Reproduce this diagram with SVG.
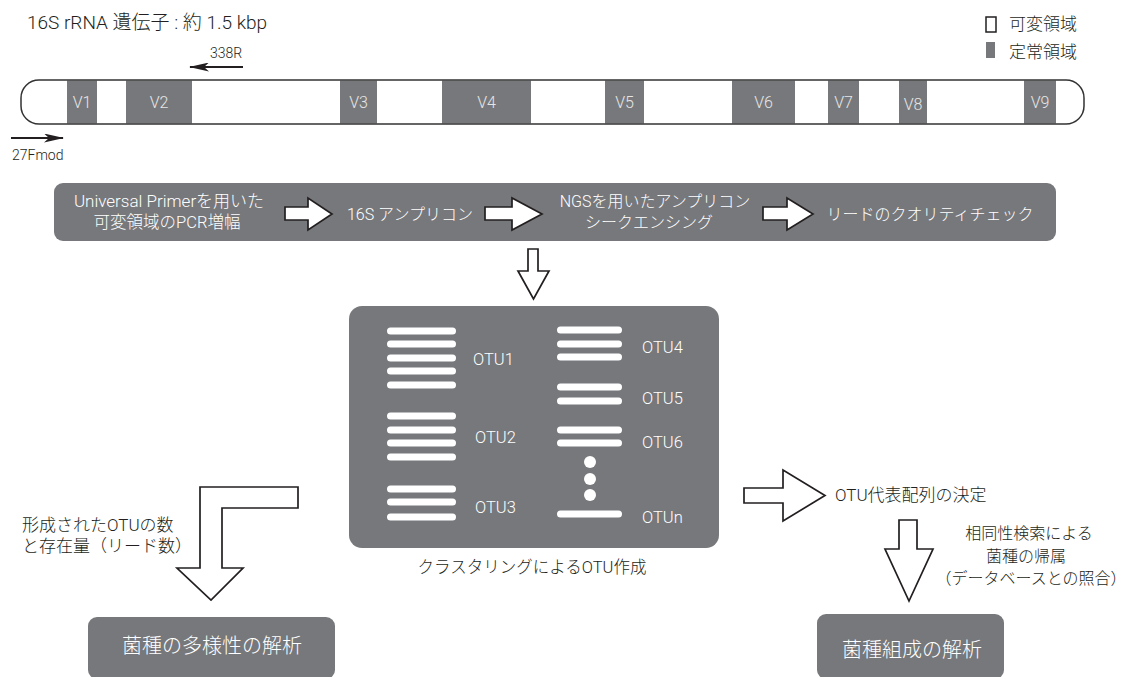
<svg xmlns="http://www.w3.org/2000/svg" width="1127" height="677" viewBox="0 0 1127 677">
<style>
.t{font-family:Roboto,"Noto Sans CJK JP",sans-serif;fill:#231f20;font-weight:300}
.w{font-family:Roboto,"Noto Sans CJK JP",sans-serif;fill:#ffffff;font-weight:300}
.v{font-family:Roboto,"Noto Sans CJK JP",sans-serif;fill:#e6e6e6;font-size:16px;font-weight:300;text-anchor:middle}
.o{font-family:Roboto,"Noto Sans CJK JP",sans-serif;fill:#ffffff;font-size:16.5px;font-weight:300}
.dk{fill:#77787b}
.ar{fill:#ffffff;stroke:#231f20;stroke-width:1.7;stroke-linejoin:miter}
.ln{stroke:#ffffff;stroke-width:7;stroke-linecap:round}
.pr{stroke:#231f20;stroke-width:2}
.m{text-anchor:middle}
</style>
<defs>
<marker id="ah" viewBox="0 0 20 9" markerWidth="20" markerHeight="9" refX="19" refY="4.5" orient="auto" markerUnits="userSpaceOnUse">
<path d="M0,0 L20,4.5 L0,9 L5,4.5 z" fill="#231f20"/>
</marker>
</defs>

<g id="title">
<text class="t" x="27" y="29" font-size="19">16S rRNA 遺伝子 : 約 1.5 kbp</text>
</g>

<g id="legend">
<rect x="986" y="17" width="10" height="15" fill="#fff" stroke="#231f20" stroke-width="1.5"/>
<text class="t" x="1009" y="30" font-size="17">可変領域</text>
<rect x="986" y="42" width="9" height="16" class="dk"/>
<text class="t" x="1009" y="58" font-size="17">定常領域</text>
</g>

<g id="gene">
<rect x="21" y="80" width="1063" height="44" rx="18" fill="#fff"/>
<rect x="67" y="80.5" width="30" height="43" class="dk"/>
<rect x="126" y="80.5" width="66" height="43" class="dk"/>
<rect x="340" y="80.5" width="37" height="43" class="dk"/>
<rect x="442" y="80.5" width="89" height="43" class="dk"/>
<rect x="605" y="80.5" width="39" height="43" class="dk"/>
<rect x="732" y="80.5" width="63" height="43" class="dk"/>
<rect x="828" y="80.5" width="31" height="43" class="dk"/>
<rect x="899" y="80.5" width="28" height="43" class="dk"/>
<rect x="1024" y="80.5" width="32" height="43" class="dk"/>
<rect x="21" y="80" width="1063" height="44" rx="18" fill="none" stroke="#333" stroke-width="1.5"/>
<text class="v" x="82" y="108">V1</text>
<text class="v" x="159" y="108">V2</text>
<text class="v" x="358.5" y="108">V3</text>
<text class="v" x="486.5" y="108">V4</text>
<text class="v" x="624.5" y="108">V5</text>
<text class="v" x="763.5" y="108">V6</text>
<text class="v" x="843.5" y="108">V7</text>
<text class="v" x="913" y="110">V8</text>
<text class="v" x="1040" y="108">V9</text>
</g>

<g id="primers">
<line x1="243" y1="67" x2="190" y2="67" class="pr" marker-end="url(#ah)"/>
<text class="t" x="210" y="58" font-size="14">338R</text>
<line x1="11" y1="138" x2="63" y2="138" class="pr" marker-end="url(#ah)"/>
<text class="t" x="12" y="160" font-size="14">27Fmod</text>
</g>

<g id="process">
<rect x="54" y="183" width="1002" height="58" rx="9" class="dk"/>
<text class="w m" x="169" y="207" font-size="17">Universal Primerを用いた</text>
<text class="w m" x="167" y="228" font-size="16.5">可変領域のPCR増幅</text>
<text class="w m" x="410" y="220" font-size="16">16S アンプリコン</text>
<text class="w m" x="655" y="207" font-size="16">NGSを用いたアンプリコン</text>
<text class="w m" x="649" y="228" font-size="16">シークエンシング</text>
<text class="w m" x="930" y="220" font-size="16">リードのクオリティチェック</text>
</g>

<g id="connectors">
<polygon class="ar" points="285,207 308,207 308,198 332,214 308,230 308,220 285,220"/>
<polygon class="ar" points="485,207 512,207 512,198 542,214 512,230 512,220 485,220"/>
<polygon class="ar" points="763,207 787,207 787,198 813,214 787,230 787,220 763,220"/>
<polygon class="ar" points="528,249 538,249 538,271 549,271 533.5,299 518,271 528,271"/>
<polygon class="ar" points="200,487 298,487 298,508 222,508 222,568 243,568 211,600 177,568 200,568"/>
<polygon class="ar" points="744,488 783,488 783,470 825,495.5 783,521 783,503 744,503"/>
<polygon class="ar" points="899,520 917,520 917,549 933,549 909,601 885,549 899,549"/>
</g>

<g id="clustering">
<rect x="349" y="306" width="370" height="242" rx="13" class="dk"/>
<line class="ln" x1="390.5" y1="331" x2="452.5" y2="331"/>
<line class="ln" x1="390.5" y1="344" x2="452.5" y2="344"/>
<line class="ln" x1="390.5" y1="358" x2="452.5" y2="358"/>
<line class="ln" x1="390.5" y1="371" x2="452.5" y2="371"/>
<line class="ln" x1="390.5" y1="385" x2="452.5" y2="385"/>
<line class="ln" x1="390.5" y1="416" x2="452.5" y2="416"/>
<line class="ln" x1="390.5" y1="430" x2="452.5" y2="430"/>
<line class="ln" x1="390.5" y1="443" x2="452.5" y2="443"/>
<line class="ln" x1="390.5" y1="457" x2="452.5" y2="457"/>
<line class="ln" x1="390.5" y1="489" x2="452.5" y2="489"/>
<line class="ln" x1="390.5" y1="502" x2="452.5" y2="502"/>
<line class="ln" x1="390.5" y1="517" x2="452.5" y2="517"/>
<line class="ln" x1="560.5" y1="330" x2="618.5" y2="330"/>
<line class="ln" x1="560.5" y1="344" x2="618.5" y2="344"/>
<line class="ln" x1="560.5" y1="357" x2="618.5" y2="357"/>
<line class="ln" x1="560.5" y1="387" x2="618.5" y2="387"/>
<line class="ln" x1="560.5" y1="401" x2="618.5" y2="401"/>
<line class="ln" x1="560.5" y1="430" x2="618.5" y2="430"/>
<line class="ln" x1="560.5" y1="443" x2="618.5" y2="443"/>
<circle cx="590" cy="462" r="6" fill="#fff"/>
<circle cx="590" cy="479" r="6" fill="#fff"/>
<circle cx="590" cy="495" r="6" fill="#fff"/>
<line class="ln" x1="560.5" y1="514" x2="618.5" y2="514"/>
<text class="o" x="473" y="365">OTU1</text>
<text class="o" x="475" y="443">OTU2</text>
<text class="o" x="475" y="513">OTU3</text>
<text class="o" x="642" y="353">OTU4</text>
<text class="o" x="642" y="404">OTU5</text>
<text class="o" x="642" y="448">OTU6</text>
<text class="o" x="642" y="523">OTUn</text>
<text class="t m" x="532" y="573" font-size="16.5">クラスタリングによるOTU作成</text>
</g>

<g id="count-label">
<text class="t" x="22" y="531" font-size="17">形成されたOTUの数</text>
<text class="t" x="22" y="552" font-size="17">と存在量（リード数）</text>
</g>

<g id="representative">
<text class="t" x="835" y="501" font-size="17">OTU代表配列の決定</text>
</g>

<g id="homology-label">
<text class="t m" x="1029" y="539" font-size="16">相同性検索による</text>
<text class="t m" x="1026" y="562" font-size="16">菌種の帰属</text>
<text class="t m" x="1031" y="584" font-size="16">（データベースとの照合）</text>
</g>

<g id="diversity">
<rect x="88" y="617" width="247" height="62" rx="9" class="dk"/>
<text class="w m" x="212" y="653" font-size="20">菌種の多様性の解析</text>
</g>

<g id="composition">
<rect x="817" y="614" width="187" height="65" rx="9" class="dk"/>
<text class="w m" x="912" y="657" font-size="20">菌種組成の解析</text>
</g>
</svg>
